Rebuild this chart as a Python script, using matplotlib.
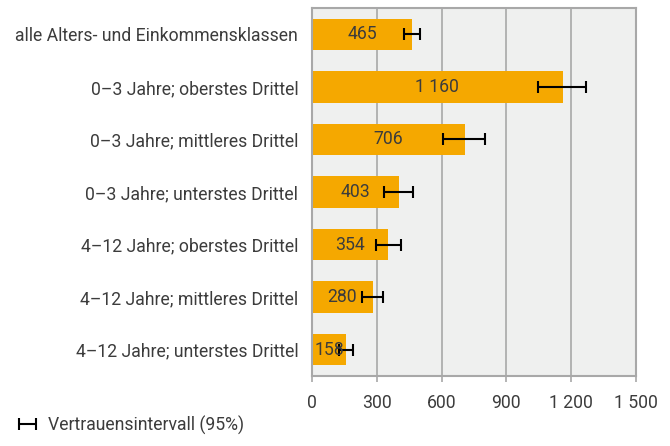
import matplotlib.pyplot as plt
from matplotlib.ticker import FuncFormatter

plt.rcParams["font.family"] = ["Roboto", "DejaVu Sans"]

categories = [
    "alle Alters- und Einkommensklassen",
    "0\u20133 Jahre; oberstes Drittel",
    "0\u20133 Jahre; mittleres Drittel",
    "0\u20133 Jahre; unterstes Drittel",
    "4\u201312 Jahre; oberstes Drittel",
    "4\u201312 Jahre; mittleres Drittel",
    "4\u201312 Jahre; unterstes Drittel",
]
values = [465, 1160, 706, 403, 354, 280, 158]
ci_low = [427, 1048, 607, 334, 297, 232, 125]
ci_high = [501, 1270, 802, 468, 413, 329, 189]

orange = "#F5A800"
text_col = "#3c3c3c"
grid_col = "#A8A8A8"
fs = 12.7


def fmt_num(v, pos=None):
    return f"{int(v):,}".replace(",", " ")


fig = plt.figure(figsize=(6.7, 4.46), dpi=100)
ax = fig.add_axes([0.4657, 0.157, 0.4836, 0.825])
ax.set_facecolor("#EFF0EF")

y = list(range(len(categories)))
ax.barh(y, values, height=0.6, color=orange, zorder=2)

# asymmetric confidence intervals
xerr = [[v - lo for v, lo in zip(values, ci_low)],
        [hi - v for v, hi in zip(values, ci_high)]]
eb = ax.errorbar(values, y, xerr=xerr, fmt="none", ecolor="black",
                 elinewidth=1.5, capsize=4.3, capthick=1.5, zorder=3,
                 label="Vertrauensintervall (95%)")

for yi, v in zip(y, values):
    ax.text(v / 2, yi, fmt_num(v), ha="center", va="center",
            fontsize=fs, color=text_col, zorder=4)

ax.set_xlim(0, 1500)
ax.set_ylim(len(categories) - 0.5, -0.5)
ax.set_xticks([0, 300, 600, 900, 1200, 1500])
ax.xaxis.set_major_formatter(FuncFormatter(fmt_num))
ax.set_yticks(y)
ax.set_yticklabels(categories)
ax.grid(axis="x", color=grid_col, linewidth=1.2, zorder=1)
ax.set_axisbelow(True)

for s in ax.spines.values():
    s.set_color(grid_col)
    s.set_linewidth(1.5)

ax.tick_params(axis="y", length=0, pad=10, labelsize=fs, labelcolor=text_col)
ax.tick_params(axis="x", length=4, width=1.2, color=grid_col, pad=9,
               labelsize=fs, labelcolor=text_col)

fig.legend(handles=[eb], loc="lower left", bbox_to_anchor=(0.0, -0.01),
           frameon=False, fontsize=fs, handlelength=1.3,
           handletextpad=0.5, labelcolor=text_col)

fig.savefig("out.png", dpi=100)
